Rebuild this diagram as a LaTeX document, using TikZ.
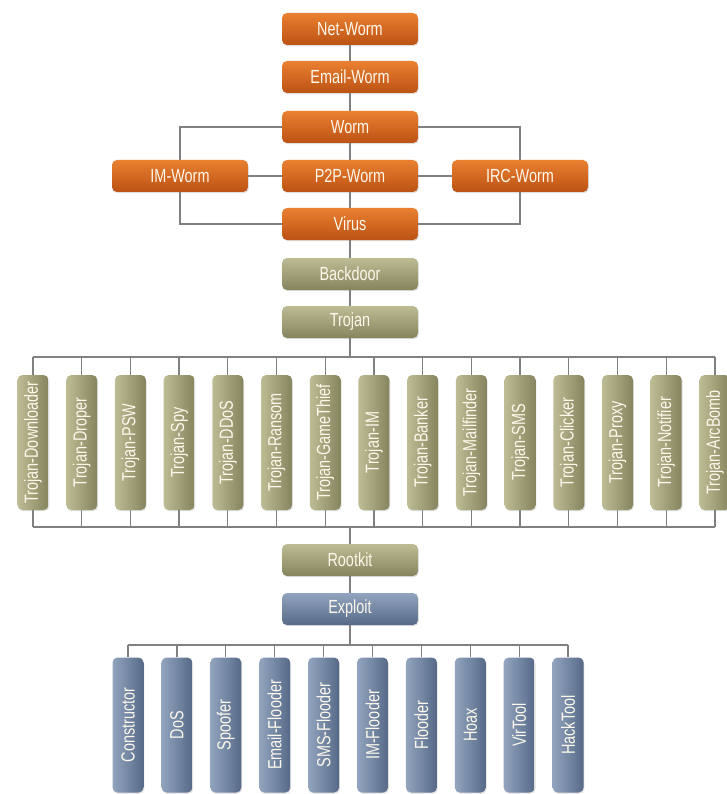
\documentclass[tikz,border=0pt]{standalone}
\usepackage{fontspec}
\setmainfont{Liberation Sans}[FakeStretch=0.76]
\usetikzlibrary{shadows,backgrounds}
\definecolor{orT}{RGB}{234,128,48}
\definecolor{orB}{RGB}{188,82,20}
\definecolor{olT}{RGB}{190,188,148}
\definecolor{olB}{RGB}{134,132,94}
\definecolor{blT}{RGB}{146,164,190}
\definecolor{blB}{RGB}{86,106,136}
\definecolor{txt}{RGB}{252,248,236}
\definecolor{lineC}{RGB}{128,128,128}
\begin{document}
\begin{tikzpicture}[x=1pt,y=-1pt,
  basebox/.style={rounded corners=5pt, inner sep=0pt, text=txt,
    font=\fontsize{19}{22}\selectfont,
    drop shadow={opacity=0.25,shadow xshift=0.8pt,shadow yshift=-1.2pt}},
  hbox/.style={basebox, minimum width=136pt, minimum height=32pt},
  vbox/.style={basebox, minimum width=31pt, minimum height=135pt},
  orbox/.style={hbox, top color=orT, bottom color=orB},
  olbox/.style={hbox, top color=olT, bottom color=olB},
  blbox/.style={hbox, top color=blT, bottom color=blB},
  olvbox/.style={vbox, left color=olT, right color=olB},
  blvbox/.style={vbox, left color=blT, right color=blB},
  conn/.style={draw=lineC, line width=1.3pt}]
\useasboundingbox (0,0) rectangle (726,794);

\node[orbox] (net)   at (350,29)  {Net-Worm};
\node[orbox] (email) at (350,77)  {Email-Worm};
\node[orbox] (worm)  at (350,127) {Worm};
\node[orbox] (im)    at (180,176) {IM-Worm};
\node[orbox] (p2p)   at (350,176) {P2P-Worm};
\node[orbox] (irc)   at (520,176) {IRC-Worm};
\node[orbox] (virus) at (350,224) {Virus};
\node[olbox] (back)  at (350,274) {Backdoor};
\node[olbox] (troj)  at (350,322) {Trojan};
\node[olbox] (root)  at (350,560) {Rootkit};
\node[blbox] (expl)  at (350,609) {Exploit};

\foreach \t [count=\i from 0] in {Trojan-Downloader,Trojan-Droper,Trojan-PSW,Trojan-Spy,Trojan-DDoS,Trojan-Ransom,Trojan-GameThief,Trojan-IM,Trojan-Banker,Trojan-Mailfinder,Trojan-SMS,Trojan-Clicker,Trojan-Proxy,Trojan-Notifier,Trojan-ArcBomb}
  \node[olvbox] (t\i) at ({33+\i*48.71},442.5) {\rotatebox{90}{\t}};

\foreach \t [count=\i from 0] in {Constructor,DoS,Spoofer,Email-Flooder,SMS-Flooder,IM-Flooder,Flooder,Hoax,VirTool,HackTool}
  \node[blvbox] (e\i) at ({128+\i*48.9},725) {\rotatebox{90}{\t}};

\coordinate (busT) at (350,357);
\coordinate (busB) at (350,527);
\coordinate (busE) at (350,645);

\begin{scope}[on background layer]
  \draw[conn] (net) -- (email);
  \draw[conn] (email) -- (worm);
  \draw[conn] (worm) -- (p2p);
  \draw[conn] (p2p) -- (virus);
  \draw[conn] (virus) -- (back);
  \draw[conn] (back) -- (troj);
  \draw[conn] (worm.west) -| (im.north);
  \draw[conn] (worm.east) -| (irc.north);
  \draw[conn] (im.south) |- (virus.west);
  \draw[conn] (irc.south) |- (virus.east);
  \draw[conn] (im) -- (p2p);
  \draw[conn] (p2p) -- (irc);
  \draw[conn] (troj) -- (busT);
  \draw[conn] (t0.north |- busT) -- (t14.north |- busT);
  \draw[conn] (t0.south |- busB) -- (t14.south |- busB);
  \foreach \i in {0,...,14}{
    \draw[conn] (t\i.north) -- (t\i.north |- busT);
    \draw[conn] (t\i.south) -- (t\i.south |- busB);
  }
  \draw[conn] (busB) -- (root);
  \draw[conn] (root) -- (expl);
  \draw[conn] (expl) -- (busE);
  \draw[conn] (e0.north |- busE) -- (e9.north |- busE);
  \foreach \i in {0,...,9}
    \draw[conn] (e\i.north) -- (e\i.north |- busE);
\end{scope}
\end{tikzpicture}
\end{document}
